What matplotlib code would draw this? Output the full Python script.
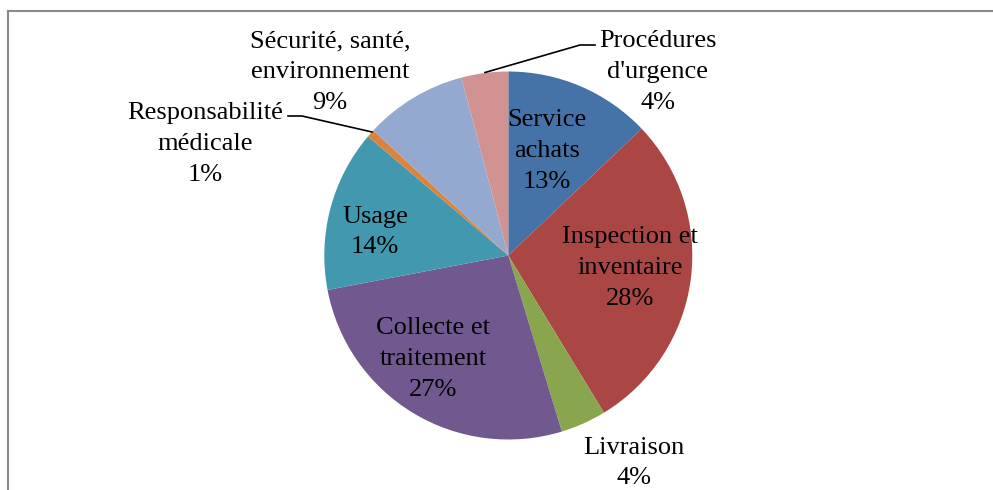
import matplotlib.pyplot as plt
from matplotlib.lines import Line2D

# shares (labels are the rounded values)
categories = ["Service\nachats", "Inspection et\ninventaire", "Livraison",
              "Collecte et\ntraitement", "Usage", "Responsabilité\nmédicale",
              "Sécurité, santé,\nenvironnement", "Procédures\nd'urgence"]
shares = [12.9, 28.4, 4.0, 26.7, 14.2, 0.7, 9.0, 4.1]

colors = ["#4572A7", "#AA4643", "#89A54E", "#71588F",
          "#4198AF", "#DB843D", "#93A9CF", "#D19392"]

W, H = 993, 490
# label centres in pixels (x, y from top)
label_pos = [(547, 151), (630, 268), (634, 463), (433, 359),
             (375, 232), (205, 144), (330, 72), (658, 72)]

plt.rcParams['font.family'] = ['Liberation Serif', 'DejaVu Serif']

fig = plt.figure(figsize=(W / 100, H / 100), dpi=100)
ax = fig.add_axes([0, 0, 1, 1])

cx, cy, r = 508.3, H - 255.5, 184
ax.pie(shares, colors=colors, startangle=90, counterclock=False,
       center=(cx, cy), radius=r, wedgeprops=dict(linewidth=0))
ax.set_xlim(0, W)
ax.set_ylim(0, H)
ax.set_aspect('equal')
ax.axis('off')

for name, val, (x, y) in zip(categories, shares, label_pos):
    ax.text(x, H - y, "%s\n%d%%" % (name, round(val)), ha='center', va='center',
            fontsize=19, linespacing=1.52, color='black')

# leader lines for the two small outer labels
ax.plot([288, 302, 372], [H - 116, H - 116, H - 132], color='black', lw=1.2)
ax.plot([595, 580, 485], [H - 45, H - 45, H - 72.5], color='black', lw=1.2)

# chart area border (right and bottom edges fall outside the image)
fig.add_artist(Line2D([7.5 / W, 7.5 / W], [0, 1 - 11.5 / H], transform=fig.transFigure,
                      color='#8a8a8a', lw=1.5))
fig.add_artist(Line2D([7.5 / W, 1], [1 - 11.5 / H, 1 - 11.5 / H], transform=fig.transFigure,
                      color='#8a8a8a', lw=1.5))

fig.savefig("out.png", dpi=100)
